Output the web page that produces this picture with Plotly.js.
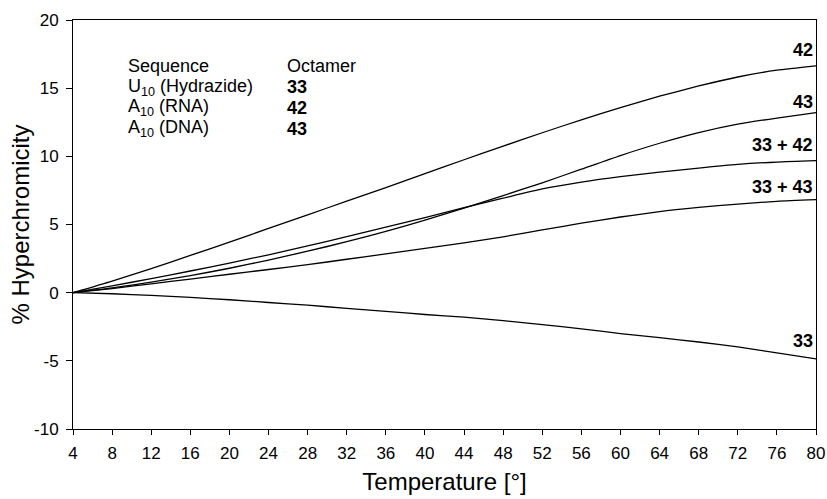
<!DOCTYPE html>
<html>
<head>
<meta charset="utf-8">
<script src="https://cdn.plot.ly/plotly-3.0.1.min.js"></script>
<style>html,body{margin:0;padding:0;background:#fff;}#chart{width:827px;height:499px;}</style>
</head>
<body>
<div id="chart"></div>
<script>
const temperature = [4, 8, 12, 16, 20, 24, 28, 32, 36, 40, 44, 48, 52, 56, 60, 64, 68, 72, 76, 80];
const hyper42   = [0, 0.85, 1.77, 2.73, 3.71, 4.71, 5.71, 6.71, 7.71, 8.73, 9.75, 10.75, 11.73, 12.68, 13.58, 14.41, 15.16, 15.82, 16.32, 16.64];
const hyper43   = [0, 0.35, 0.77, 1.25, 1.79, 2.39, 3.04, 3.74, 4.5, 5.32, 6.2, 7.12, 8.06, 9.06, 10.06, 10.96, 11.74, 12.36, 12.81, 13.2];
const hyper3342 = [0, 0.5, 1.03, 1.59, 2.17, 2.78, 3.43, 4.11, 4.81, 5.51, 6.23, 6.93, 7.61, 8.11, 8.51, 8.84, 9.14, 9.41, 9.58, 9.68];
const hyper3343 = [0, 0.3, 0.65, 1.0, 1.35, 1.7, 2.05, 2.45, 2.85, 3.25, 3.65, 4.1, 4.6, 5.1, 5.55, 5.95, 6.25, 6.5, 6.7, 6.82];
const hyper33   = [0, -0.08, -0.2, -0.35, -0.52, -0.72, -0.92, -1.15, -1.37, -1.6, -1.8, -2.05, -2.35, -2.65, -3.0, -3.3, -3.62, -3.98, -4.42, -4.85];

const xTicks = [4, 8, 12, 16, 20, 24, 28, 32, 36, 40, 44, 48, 52, 56, 60, 64, 68, 72, 76, 80];
const yTicks = [-10, -5, 0, 5, 10, 15, 20];
const yTickText = ["-10", "-5", "0", "5", "10", "15", "20"];

const seriesList = [
  {name: "42", y: hyper42},
  {name: "43", y: hyper43},
  {name: "33 + 42", y: hyper3342},
  {name: "33 + 43", y: hyper3343},
  {name: "33", y: hyper33}
];
const curveLabels = [
  {text: "42", y: 17.8},
  {text: "43", y: 14.0},
  {text: "33 + 42", y: 10.8},
  {text: "33 + 43", y: 7.76},
  {text: "33", y: -3.53}
];
const legendRows = [
  ["Sequence", "Octamer"],
  ["U<sub>10</sub> (Hydrazide)", "<b>33</b>"],
  ["A<sub>10</sub> (RNA)", "<b>42</b>"],
  ["A<sub>10</sub> (DNA)", "<b>43</b>"]
];
const legendY = [16.6, 15.07, 13.55, 12.02];

const FONT = "Liberation Sans, Arial, sans-serif";

const traces = seriesList.map(s => ({
  type: "scatter", mode: "lines", x: temperature, y: s.y, name: s.name,
  line: {color: "#000", width: 1.3, shape: "spline", smoothing: 0.6},
  showlegend: false, hoverinfo: "skip"
}));

const annotations = [];
curveLabels.forEach(l => annotations.push({
  x: 80, y: l.y, xref: "x", yref: "y", text: "<b>" + l.text + "</b>",
  showarrow: false, xanchor: "right", yanchor: "middle", xshift: -1,
  font: {family: FONT, size: 18, color: "#000"}
}));
legendRows.forEach((row, i) => {
  annotations.push({x: 9.4, y: legendY[i], xref: "x", yref: "y", text: row[0],
    showarrow: false, xanchor: "left", yanchor: "middle",
    font: {family: FONT, size: 18, color: "#000"}});
  annotations.push({x: 25.7, y: legendY[i], xref: "x", yref: "y", text: row[1],
    showarrow: false, xanchor: "left", yanchor: "middle",
    font: {family: FONT, size: 18, color: "#000"}});
});
// y-axis title placed as a rotated annotation so it sits where the reference has it
annotations.push({
  x: 0, y: 0.5, xref: "paper", yref: "paper", text: "% Hyperchromicity",
  textangle: -90, showarrow: false, xanchor: "center", yanchor: "middle", xshift: -53,
  font: {family: FONT, size: 24, color: "#000"}
});

const layout = {
  width: 827, height: 499,
  margin: {l: 73, r: 11, t: 20, b: 70},
  paper_bgcolor: "#fff", plot_bgcolor: "#fff",
  font: {family: FONT, size: 17, color: "#000"},
  xaxis: {
    range: [4, 80], tickvals: xTicks, ticks: "outside", ticklen: 5, tickwidth: 1,
    tickcolor: "#000", showline: true, linecolor: "#000", linewidth: 1, mirror: true,
    showgrid: false, zeroline: false, ticklabelstandoff: 4,
    tickfont: {family: FONT, size: 17, color: "#000"},
    title: {text: "Temperature [°]", font: {family: FONT, size: 24, color: "#000"}, standoff: 10}
  },
  yaxis: {
    range: [-10, 20], tickvals: yTicks, ticktext: yTickText, ticks: "outside", ticklen: 6, tickwidth: 1,
    tickcolor: "#000", showline: true, linecolor: "#000", linewidth: 1, mirror: true,
    showgrid: false, zeroline: false, ticklabelstandoff: 4,
    tickfont: {family: FONT, size: 17, color: "#000"}
  },
  annotations: annotations
};

Plotly.newPlot("chart", traces, layout, {displayModeBar: false, staticPlot: true});
</script>
</body>
</html>
